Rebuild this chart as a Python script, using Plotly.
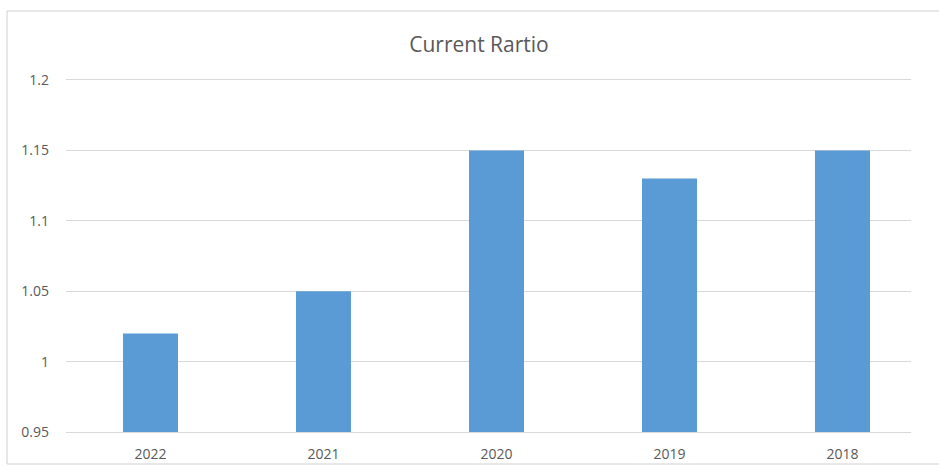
import plotly.graph_objects as go

years = ["2022", "2021", "2020", "2019", "2018"]
current_ratio = [1.02, 1.05, 1.15, 1.13, 1.15]
y_ticks = [0.95, 1.0, 1.05, 1.1, 1.15, 1.2]
y_tick_text = ["0.95", "1", "1.05", "1.1", "1.15", "1.2"]

W, H = 939, 466
ml, mr, mt, mb = 66, 28, 80, 34
pw, ph = W - ml - mr, H - mt - mb


def px_x(x):
    return (x - ml) / pw


def px_y(y):
    return (H - mb - y) / ph


fig = go.Figure(
    go.Bar(
        x=years,
        y=current_ratio,
        base=0,
        marker=dict(color="#5B9BD5", line=dict(width=0)),
        width=0.318,
    )
)

fig.update_layout(
    width=W,
    height=H,
    margin=dict(l=ml, r=mr, t=mt, b=mb, autoexpand=False),
    paper_bgcolor="white",
    plot_bgcolor="white",
    showlegend=False,
    title=dict(
        text="Current Rartio",
        x=479 / W,
        xanchor="center",
        y=1 - 45 / H,
        yanchor="middle",
        font=dict(family="Open Sans, Liberation Sans, sans-serif", size=21, color="#595959"),
    ),
    font=dict(family="Open Sans, Liberation Sans, sans-serif", size=13, color="#595959"),
    shapes=[
        dict(
            type="rect",
            xref="paper",
            yref="paper",
            x0=px_x(7),
            x1=px_x(948),
            y0=px_y(464),
            y1=px_y(11),
            line=dict(color="#D0D0D0", width=1),
            fillcolor="rgba(0,0,0,0)",
            layer="below",
        )
    ],
)

# category spacing: 173 px per year, first bar centred at x=150.5
fig.update_xaxes(
    type="category",
    range=[-(150.5 - ml) / 173, 4 + (W - mr - 842.5) / 173],
    automargin=False,
    showgrid=False,
    showline=True,
    mirror=True,
    linecolor="#D9D9D9",
    linewidth=1,
    ticks="",
    ticklabelstandoff=9,
    tickfont=dict(size=14, color="#595959"),
)

fig.update_yaxes(
    range=[0.95, 1.2],
    automargin=False,
    tickvals=y_ticks,
    ticktext=y_tick_text,
    showgrid=True,
    gridcolor="#D9D9D9",
    gridwidth=1,
    zeroline=False,
    showline=False,
    ticks="",
    ticklabelstandoff=16,
    tickfont=dict(size=14, color="#595959"),
)

fig.write_html("out.html")
